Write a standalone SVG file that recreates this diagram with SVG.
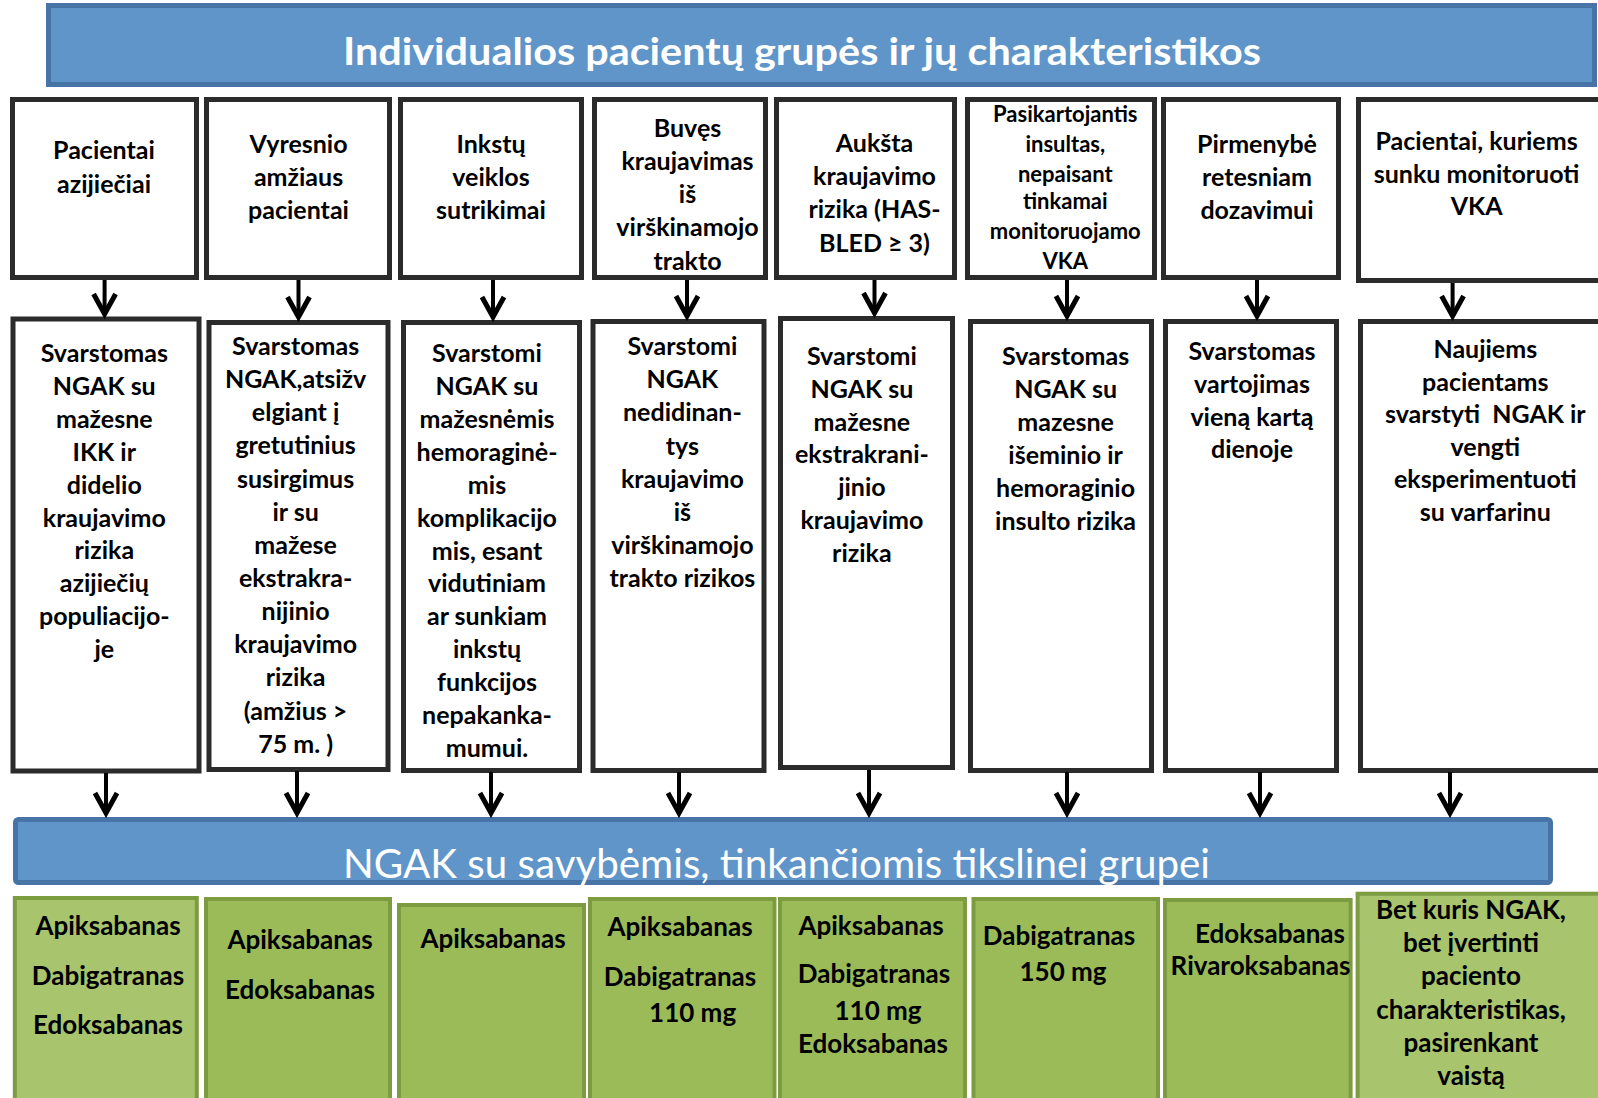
<svg xmlns="http://www.w3.org/2000/svg" width="1598" height="1098" viewBox="0 0 1598 1098">
  <defs>
    <style>
      .bar { fill: #5f95c9; stroke: #4773a6; stroke-width: 5; }
      .box { fill: #ffffff; stroke: #2b2b2b; stroke-width: 5; }
      .grn { fill: #9bbb59; stroke: #7d9c42; stroke-width: 4; }
      .grn-lt { fill: #a8c46c; }
      .t { font-family: Lato, "Open Sans", "DejaVu Sans", sans-serif; font-weight: bold; font-size: 25px; text-anchor: middle; fill: #000000; }
      .t-sm { font-size: 22px; }
      .t-g { font-size: 26px; }
      .ttl { font-family: Lato, "Open Sans", sans-serif; font-weight: bold; font-size: 38px; text-anchor: middle; fill: #ffffff; }
      .sub { font-family: Lato, "Open Sans", sans-serif; font-weight: normal; font-size: 40px; text-anchor: middle; fill: #ffffff; }
      .arr { stroke: #000000; stroke-width: 4; fill: none; marker-end: url(#head); }
    </style>
    <marker id="head" markerUnits="userSpaceOnUse" viewBox="-26 -14 30 28" refX="0" refY="0" markerWidth="30" markerHeight="28" orient="auto">
      <path d="M-21,-11 L-1,0 L-21,11" fill="none" stroke="#000000" stroke-width="5" stroke-linejoin="miter"/>
    </marker>
  </defs>

  <rect width="1598" height="1098" fill="#ffffff"/>

  <!-- heading banner -->
  <g id="title">
    <rect class="bar" x="48.5" y="5.5" width="1546" height="79"/>
    <text class="ttl" x="802" y="65" textLength="918" lengthAdjust="spacingAndGlyphs">Individualios pacientų grupės ir jų charakteristikos</text>
  </g>

  <!-- patient groups -->
  <g id="group-1">
    <rect class="box" x="12.5" y="99.5" width="184" height="178"/>
    <text class="t" x="104" y="159"><tspan x="104">Pacientai</tspan><tspan x="104" dy="33.5">azijiečiai</tspan></text>
  </g>
  <g id="group-2">
    <rect class="box" x="206.5" y="99.5" width="183" height="178"/>
    <text class="t" x="298.5" y="152.7"><tspan x="298.5">Vyresnio</tspan><tspan x="298.5" dy="33">amžiaus</tspan><tspan x="298.5" dy="33">pacientai</tspan></text>
  </g>
  <g id="group-3">
    <rect class="box" x="400.5" y="99.5" width="181" height="178"/>
    <text class="t" x="491" y="152.7"><tspan x="491">Inkstų</tspan><tspan x="491" dy="33">veiklos</tspan><tspan x="491" dy="33">sutrikimai</tspan></text>
  </g>
  <g id="group-4">
    <rect class="box" x="594.5" y="99.5" width="171" height="178"/>
    <text class="t" x="687.5" y="136.7"><tspan x="687.5">Buvęs</tspan><tspan x="687.5" dy="33.2">kraujavimas</tspan><tspan x="687.5" dy="33.2">iš</tspan><tspan x="687.5" dy="33.2">virškinamojo</tspan><tspan x="687.5" dy="33.2">trakto</tspan></text>
  </g>
  <g id="group-5">
    <rect class="box" x="776.5" y="99.5" width="178" height="178"/>
    <text class="t" x="874.5" y="151.7"><tspan x="874.5">Aukšta</tspan><tspan x="874.5" dy="33.3">kraujavimo</tspan><tspan x="874.5" dy="33.3">rizika (HAS-</tspan><tspan x="874.5" dy="33.3">BLED ≥ 3)</tspan></text>
  </g>
  <g id="group-6">
    <rect class="box" x="967.5" y="99.5" width="187" height="178"/>
    <text class="t t-sm" x="1065.3" y="121.7"><tspan x="1065.3">Pasikartojantis</tspan><tspan x="1065.3" dy="30">insultas,</tspan><tspan x="1065.3" dy="30">nepaisant</tspan><tspan x="1065.3" dy="27">tinkamai</tspan><tspan x="1065.3" dy="30.5">monitoruojamo</tspan><tspan x="1065.3" dy="30">VKA</tspan></text>
  </g>
  <g id="group-7">
    <rect class="box" x="1163.5" y="99.5" width="175" height="178"/>
    <text class="t" x="1257" y="152.7"><tspan x="1257">Pirmenybė</tspan><tspan x="1257" dy="33">retesniam</tspan><tspan x="1257" dy="33">dozavimui</tspan></text>
  </g>
  <g id="group-8">
    <rect class="box" x="1358.5" y="99.5" width="250" height="181"/>
    <text class="t" x="1476.6" y="150"><tspan x="1476.6">Pacientai, kuriems</tspan><tspan x="1476.6" dy="33.3">sunku monitoruoti</tspan><tspan x="1476.6" dy="32">VKA</tspan></text>
  </g>

  <!-- recommendations -->
  <g id="advice-1">
    <rect class="box" x="13" y="319" width="186" height="452"/>
    <text class="t" x="104.3" y="361.7"><tspan x="104.3">Svarstomas</tspan><tspan x="104.3" dy="32.96">NGAK su</tspan><tspan x="104.3" dy="32.96">mažesne</tspan><tspan x="104.3" dy="32.96">IKK ir</tspan><tspan x="104.3" dy="32.96">didelio</tspan><tspan x="104.3" dy="32.96">kraujavimo</tspan><tspan x="104.3" dy="32.96">rizika</tspan><tspan x="104.3" dy="32.96">azijiečių</tspan><tspan x="104.3" dy="32.96">populiacijo-</tspan><tspan x="104.3" dy="32.96">je</tspan></text>
  </g>
  <g id="advice-2">
    <rect class="box" x="209" y="322.5" width="179" height="447"/>
    <text class="t" x="295.6" y="355"><tspan x="295.6">Svarstomas</tspan><tspan x="295.6" dy="33.14">NGAK,atsižv</tspan><tspan x="295.6" dy="33.14">elgiant į</tspan><tspan x="295.6" dy="33.14">gretutinius</tspan><tspan x="295.6" dy="33.14">susirgimus</tspan><tspan x="295.6" dy="33.14">ir su</tspan><tspan x="295.6" dy="33.14">mažese</tspan><tspan x="295.6" dy="33.14">ekstrakra-</tspan><tspan x="295.6" dy="33.14">nijinio</tspan><tspan x="295.6" dy="33.14">kraujavimo</tspan><tspan x="295.6" dy="33.14">rizika</tspan><tspan x="295.6" dy="33.14">(amžius &gt;</tspan><tspan x="295.6" dy="33.14">75 m. )</tspan></text>
  </g>
  <g id="advice-3">
    <rect class="box" x="403.5" y="322.5" width="176" height="448"/>
    <text class="t" x="487" y="361.7"><tspan x="487">Svarstomi</tspan><tspan x="487" dy="32.97">NGAK su</tspan><tspan x="487" dy="32.97">mažesnėmis</tspan><tspan x="487" dy="32.97">hemoraginė-</tspan><tspan x="487" dy="32.97">mis</tspan><tspan x="487" dy="32.97">komplikacijo</tspan><tspan x="487" dy="32.97">mis, esant</tspan><tspan x="487" dy="32.97">vidutiniam</tspan><tspan x="487" dy="32.97">ar sunkiam</tspan><tspan x="487" dy="32.97">inkstų</tspan><tspan x="487" dy="32.97">funkcijos</tspan><tspan x="487" dy="32.97">nepakanka-</tspan><tspan x="487" dy="32.97">mumui.</tspan></text>
  </g>
  <g id="advice-4">
    <rect class="box" x="593" y="321.5" width="171" height="449"/>
    <text class="t" x="682.4" y="355"><tspan x="682.4">Svarstomi</tspan><tspan x="682.4" dy="33.2">NGAK</tspan><tspan x="682.4" dy="33.2">nedidinan-</tspan><tspan x="682.4" dy="33.2">tys</tspan><tspan x="682.4" dy="33.2">kraujavimo</tspan><tspan x="682.4" dy="33.2">iš</tspan><tspan x="682.4" dy="33.2">virškinamojo</tspan><tspan x="682.4" dy="33.2">trakto rizikos</tspan></text>
  </g>
  <g id="advice-5">
    <rect class="box" x="780.5" y="318.5" width="172" height="449"/>
    <text class="t" x="861.9" y="365"><tspan x="861.9">Svarstomi</tspan><tspan x="861.9" dy="32.8">NGAK su</tspan><tspan x="861.9" dy="32.8">mažesne</tspan><tspan x="861.9" dy="32.8">ekstrakrani-</tspan><tspan x="861.9" dy="32.8">jinio</tspan><tspan x="861.9" dy="32.8">kraujavimo</tspan><tspan x="861.9" dy="32.8">rizika</tspan></text>
  </g>
  <g id="advice-6">
    <rect class="box" x="970.5" y="321.5" width="181" height="449"/>
    <text class="t" x="1065.6" y="365"><tspan x="1065.6">Svarstomas</tspan><tspan x="1065.6" dy="32.9">NGAK su</tspan><tspan x="1065.6" dy="32.9">mazesne</tspan><tspan x="1065.6" dy="32.9">išeminio ir</tspan><tspan x="1065.6" dy="32.9">hemoraginio</tspan><tspan x="1065.6" dy="32.9">insulto rizika</tspan></text>
  </g>
  <g id="advice-7">
    <rect class="box" x="1165.5" y="321.5" width="171" height="449"/>
    <text class="t" x="1252" y="360"><tspan x="1252">Svarstomas</tspan><tspan x="1252" dy="32.8">vartojimas</tspan><tspan x="1252" dy="32.8">vieną kartą</tspan><tspan x="1252" dy="32.8">dienoje</tspan></text>
  </g>
  <g id="advice-8">
    <rect class="box" x="1360.5" y="321.5" width="250" height="449"/>
    <text class="t" x="1485.3" y="358.3" style="white-space:pre"><tspan x="1485.3">Naujiems</tspan><tspan x="1485.3" dy="32.5">pacientams</tspan><tspan x="1485.3" dy="32.5">svarstyti  NGAK ir</tspan><tspan x="1485.3" dy="32.5">vengti</tspan><tspan x="1485.3" dy="32.5">eksperimentuoti</tspan><tspan x="1485.3" dy="32.5">su varfarinu</tspan></text>
  </g>

  <!-- common target bar -->
  <g id="target">
    <rect class="bar" x="15.5" y="819.5" width="1535" height="63" rx="3"/>
    <text class="sub" x="776.5" y="877.7" textLength="867" lengthAdjust="spacingAndGlyphs">NGAK su savybėmis, tinkančiomis tikslinei grupei</text>
  </g>

  <!-- drug choices -->
  <g id="drugs-1">
    <rect class="grn grn-lt" x="14.8" y="898" width="182" height="210"/>
    <text class="t t-g" x="108" y="935"><tspan x="108">Apiksabanas</tspan><tspan x="108" dy="49.5">Dabigatranas</tspan><tspan x="108" dy="49.5">Edoksabanas</tspan></text>
  </g>
  <g id="drugs-2">
    <rect class="grn" x="206" y="899" width="184" height="210"/>
    <text class="t t-g" x="300" y="949"><tspan x="300">Apiksabanas</tspan><tspan x="300" dy="50">Edoksabanas</tspan></text>
  </g>
  <g id="drugs-3">
    <rect class="grn" x="399" y="905" width="185" height="210"/>
    <text class="t t-g" x="493" y="948">Apiksabanas</text>
  </g>
  <g id="drugs-4">
    <rect class="grn" x="590" y="899" width="184.5" height="210"/>
    <text class="t t-g" x="680" y="936"><tspan x="680">Apiksabanas</tspan><tspan x="680" dy="49.7">Dabigatranas</tspan><tspan x="692.6" dy="36">110 mg</tspan></text>
  </g>
  <g id="drugs-5">
    <rect class="grn" x="780" y="899" width="185" height="210"/>
    <text class="t t-g" x="871" y="935"><tspan x="871">Apiksabanas</tspan><tspan x="874" dy="48">Dabigatranas</tspan><tspan x="878" dy="37">110 mg</tspan><tspan x="873" dy="32.7">Edoksabanas</tspan></text>
  </g>
  <g id="drugs-6">
    <rect class="grn" x="973.5" y="899" width="184.5" height="210"/>
    <text class="t t-g" x="1059" y="945"><tspan x="1059">Dabigatranas</tspan><tspan x="1063" dy="36">150 mg</tspan></text>
  </g>
  <g id="drugs-7">
    <rect class="grn" x="1165" y="900" width="185.6" height="210"/>
    <text class="t t-g" x="1270" y="942.7"><tspan x="1270">Edoksabanas</tspan><tspan x="1260.5" dy="32.3">Rivaroksabanas</tspan></text>
  </g>
  <g id="drugs-8">
    <rect class="grn grn-lt" x="1357.6" y="893.7" width="250" height="215"/>
    <text class="t t-g" x="1471" y="919"><tspan x="1471">Bet kuris NGAK,</tspan><tspan x="1471" dy="33.2">bet įvertinti</tspan><tspan x="1471" dy="33.2">paciento</tspan><tspan x="1471" dy="33.2">charakteristikas,</tspan><tspan x="1471" dy="33.2">pasirenkant</tspan><tspan x="1471" dy="33.2">vaistą</tspan></text>
  </g>

  <!-- connectors -->
  <g id="connectors">
    <line class="arr" x1="104.6" y1="280" x2="104.6" y2="315"/>
    <line class="arr" x1="298.5" y1="280" x2="298.5" y2="318"/>
    <line class="arr" x1="493" y1="280" x2="493" y2="318"/>
    <line class="arr" x1="687" y1="280" x2="687" y2="317"/>
    <line class="arr" x1="874.5" y1="280" x2="874.5" y2="314"/>
    <line class="arr" x1="1067" y1="280" x2="1067" y2="317"/>
    <line class="arr" x1="1257" y1="280" x2="1257" y2="317"/>
    <line class="arr" x1="1452.6" y1="283" x2="1452.6" y2="317"/>

    <line class="arr" x1="106" y1="773" x2="106" y2="814"/>
    <line class="arr" x1="297" y1="771" x2="297" y2="814"/>
    <line class="arr" x1="491" y1="772" x2="491" y2="814"/>
    <line class="arr" x1="679" y1="772" x2="679" y2="814"/>
    <line class="arr" x1="869" y1="770" x2="869" y2="814"/>
    <line class="arr" x1="1067" y1="772" x2="1067" y2="814"/>
    <line class="arr" x1="1260" y1="772" x2="1260" y2="814"/>
    <line class="arr" x1="1450" y1="772" x2="1450" y2="814"/>
  </g>
</svg>
